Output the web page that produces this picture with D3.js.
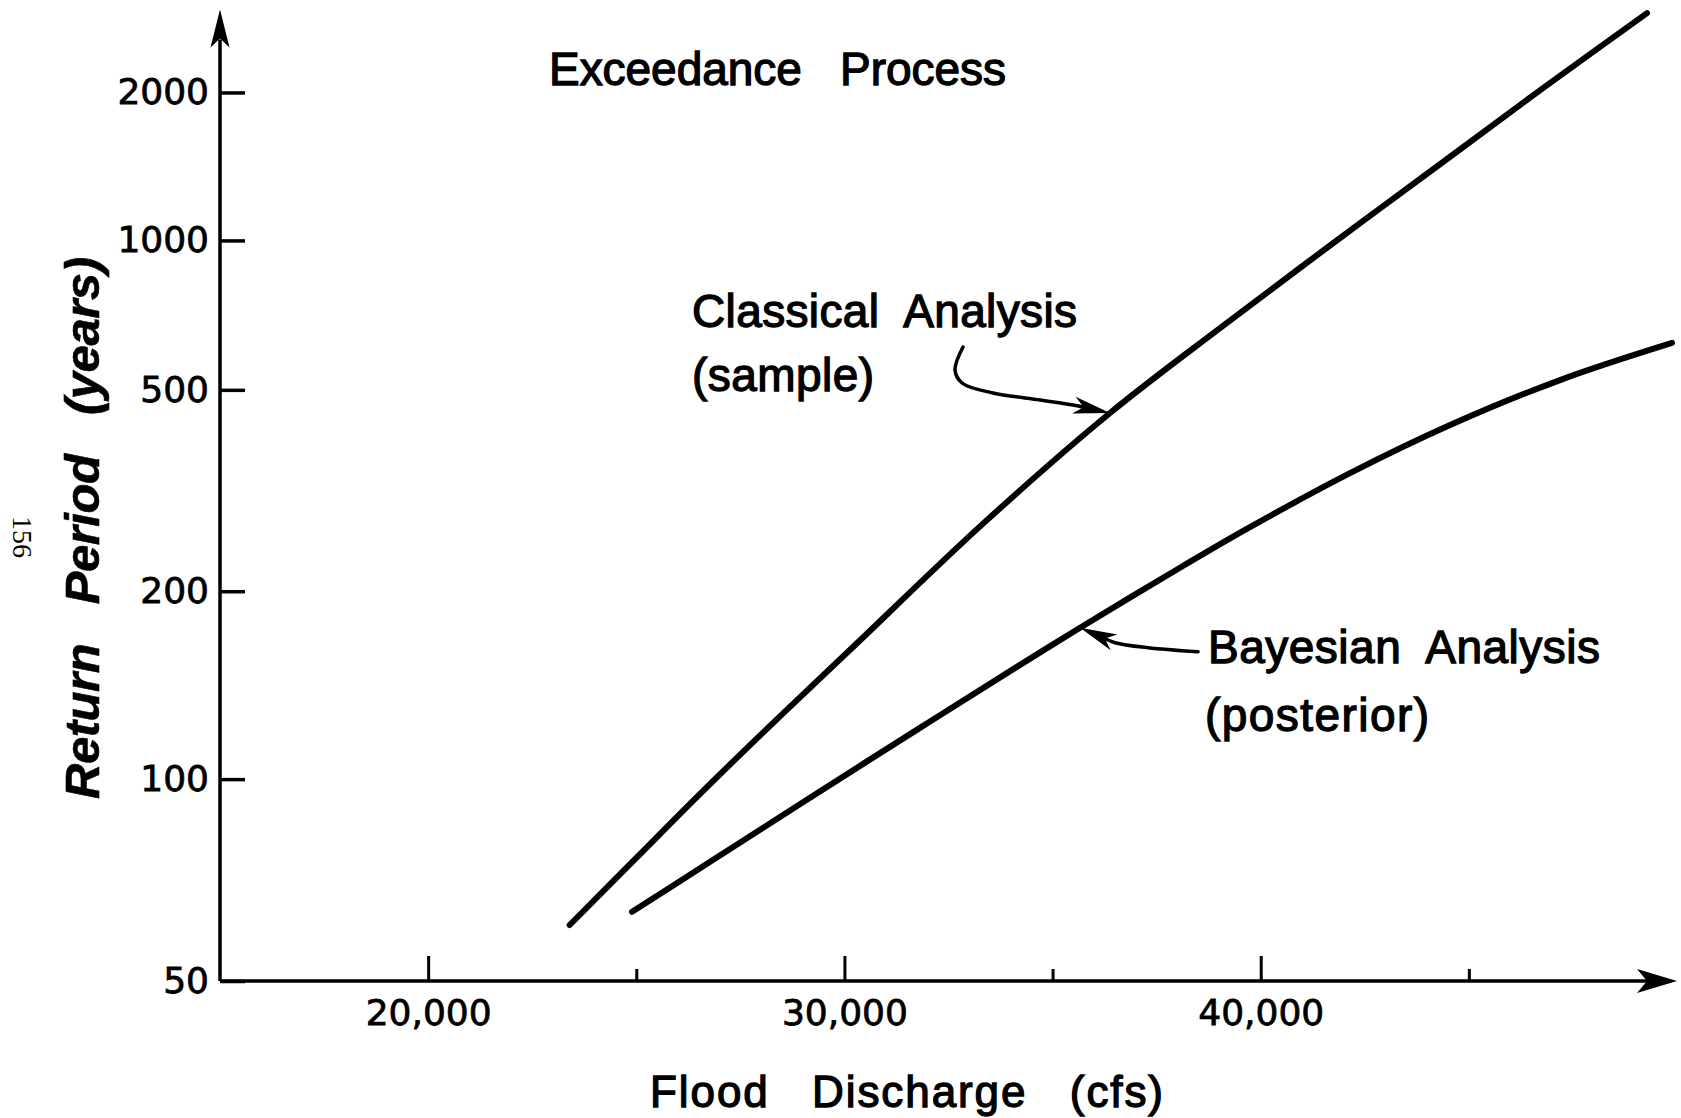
<!DOCTYPE html>
<html>
<head>
<meta charset="utf-8">
<script src="https://cdn.jsdelivr.net/npm/d3@7"></script>
<style>
  html, body { margin: 0; padding: 0; background: #fff; }
  svg { display: block; }
  text { fill: #000; }
</style>
</head>
<body>
<svg id="chart" width="1681" height="1118"></svg>
<script>
// Exceedance process: return period of floods against flood discharge

// Classical analysis (sample)
const classicalQ = [23400, 25000, 26550, 28200, 30130, 33330, 36380, 38950, 40940, 42550, 44550, 46880, 49280];
const classicalT = [60.6, 76.3, 95.3, 121.5, 161, 272, 450, 659, 880, 1110, 1480, 2070, 2900];

// Bayesian analysis (posterior)
const bayesianQ = [24900, 26820, 29125, 31890, 34170, 35660, 38130, 39740, 42145, 44550, 47190, 49880];
const bayesianT = [63.4, 75.6, 93.4, 121.7, 151.7, 174.8, 224.3, 267.7, 342.3, 426, 523.2, 621.5];

// Axes
const yTickValues = [50, 100, 200, 500, 1000, 2000];
const xMajorTicks = [20000, 30000, 40000];
const xMinorTicks = [25000, 35000, 45000];
const xDomain = [15000, 50000];

// Annotations: label lines and the vertex of each curve the leader points to
const classicalLabel = ["Classical  Analysis", "(sample)"];
const bayesianLabel = ["Bayesian  Analysis", "(posterior)"];
const classicalArrowIndex = 6;
const bayesianArrowIndex = 5;

const svg = d3.select("#chart");
const plotLeft = 220, plotRight = 1677, plotTop = 9.5, plotBottom = 981;
const axisH = plotBottom - plotTop;

const x = d3.scaleLinear().domain(xDomain).range([plotLeft, plotRight]);

// Return periods sit on probability paper: the printed rulings are spaced
// unevenly, so the scale runs piecewise-linear in log(T) between them.
const paperFraction = [0, 0.2078, 0.4012, 0.6085, 0.7623, 0.9146];
const yLog = d3.scaleLinear()
  .domain(yTickValues.map(Math.log10))
  .range(paperFraction.map(f => plotBottom - f * axisH));
const y = t => yLog(Math.log10(t));

const sans = '"Liberation Sans", Arial, sans-serif';
const digits = '"DejaVu Sans", sans-serif';

// ---- curves
const line = d3.line()
  .x(d => x(d[0]))
  .y(d => y(d[1]))
  .curve(d3.curveCatmullRom.alpha(0.5));

const classical = classicalQ.map((q, i) => [q, classicalT[i]]);
const bayesian = bayesianQ.map((q, i) => [q, bayesianT[i]]);

svg.append("g")
  .selectAll("path")
  .data([classical, bayesian])
  .join("path")
  .attr("d", line)
  .attr("fill", "none")
  .attr("stroke", "#000")
  .attr("stroke-width", 6)
  .attr("stroke-linecap", "round")
  .attr("stroke-linejoin", "round");

// ---- y axis
const yAxis = d3.axisLeft(yLog)
  .tickValues(yTickValues.map(Math.log10))
  .tickFormat(v => d3.format("d")(Math.round(Math.pow(10, v))))
  .tickSizeInner(-25)
  .tickSizeOuter(0)
  .tickPadding(11);

const gy = svg.append("g").attr("transform", `translate(${plotLeft},0)`).call(yAxis);
gy.select(".domain").remove();
gy.selectAll(".tick line").attr("stroke", "#000").attr("stroke-width", 3.5);
gy.selectAll(".tick text")
  .attr("font-family", digits)
  .attr("font-size", 36)
  .attr("fill", "#000")
  .attr("stroke", "#000")
  .attr("stroke-width", 0.8);

// ---- x axis
const xAxis = d3.axisBottom(x)
  .tickValues(xMajorTicks)
  .tickFormat(d3.format(","))
  .tickSizeInner(-25)
  .tickSizeOuter(0)
  .tickPadding(18);

const gx = svg.append("g").attr("transform", `translate(0,${plotBottom})`).call(xAxis);
gx.select(".domain").remove();
gx.selectAll(".tick line").attr("stroke", "#000").attr("stroke-width", 3);
gx.selectAll(".tick text")
  .attr("font-family", digits)
  .attr("font-size", 36)
  .attr("fill", "#000")
  .attr("stroke", "#000")
  .attr("stroke-width", 0.8);

const xMinor = d3.axisBottom(x)
  .tickValues(xMinorTicks)
  .tickFormat("")
  .tickSizeInner(-12)
  .tickSizeOuter(0);
const gxm = svg.append("g").attr("transform", `translate(0,${plotBottom})`).call(xMinor);
gxm.select(".domain").remove();
gxm.selectAll(".tick line").attr("stroke", "#000").attr("stroke-width", 3);

// axis lines with arrowheads
svg.append("path")
  .attr("d", `M${plotLeft},${plotBottom}V${plotTop + 30}M${plotLeft},${plotBottom}H${plotRight - 30}`)
  .attr("stroke", "#000")
  .attr("stroke-width", 3.5)
  .attr("fill", "none");

function arrowHead(tipX, tipY, angle, len, half, notch) {
  const c = Math.cos(angle), s = Math.sin(angle);
  const pt = (u, v) => [tipX - u * c - v * s, tipY - u * s + v * c];
  const pts = [pt(0, 0), pt(len, -half), pt(notch, 0), pt(len, half)];
  return "M" + pts.map(p => p.join(",")).join("L") + "Z";
}

svg.append("path")
  .attr("d", arrowHead(plotLeft, plotTop, -Math.PI / 2, 38, 9.5, 29))
  .attr("fill", "#000");
svg.append("path")
  .attr("d", arrowHead(plotRight, plotBottom, 0, 40, 12, 30))
  .attr("fill", "#000");

// ---- leaders from labels to curves
const leader = d3.line().curve(d3.curveCatmullRom.alpha(0.5));

function drawLeader(tip, offsets) {
  const pts = offsets.map(o => [tip[0] + o[0], tip[1] + o[1]]);
  const last = pts[pts.length - 1];
  const ang = Math.atan2(tip[1] - last[1], tip[0] - last[0]);
  const shaftEnd = [tip[0] - 26 * Math.cos(ang), tip[1] - 26 * Math.sin(ang)];
  svg.append("path")
    .attr("d", leader(pts.concat([shaftEnd])))
    .attr("fill", "none")
    .attr("stroke", "#000")
    .attr("stroke-width", 3.5)
    .attr("stroke-linecap", "round");
  svg.append("path")
    .attr("d", arrowHead(tip[0], tip[1], ang, 37, 8.5, 27))
    .attr("fill", "#000");
}

const cTip = [x(classical[classicalArrowIndex][0]), y(classical[classicalArrowIndex][1])];
drawLeader(cTip, [[-147, -66], [-155, -43], [-148, -30], [-117, -20], [-70, -13], [-37, -8]]);

const bTip = [x(bayesian[bayesianArrowIndex][0]), y(bayesian[bayesianArrowIndex][1])];
drawLeader(bTip, [[118, 24], [68, 20], [35, 15]]);

// ---- text
function label(str, xPos, yBase, size, len, opts = {}) {
  const t = svg.append("text")
    .attr("x", xPos)
    .attr("y", yBase)
    .attr("font-family", opts.family || sans)
    .attr("font-size", size)
    .attr("font-weight", opts.weight || "normal")
    .attr("font-style", opts.style || "normal")
    .attr("stroke", "#000")
    .attr("stroke-width", opts.thicken == null ? 1.3 : opts.thicken)
    .style("white-space", "pre")
    .text(str);
  if (len) t.attr("textLength", len).attr("lengthAdjust", "spacing");
  if (opts.anchor) t.attr("text-anchor", opts.anchor);
  if (opts.transform) t.attr("transform", opts.transform);
  return t;
}

label("Exceedance   Process", 549, 85, 46, 457);
label(classicalLabel[0], 692, 327, 46, 385);
label(classicalLabel[1], 692, 391, 46, 182);
label(bayesianLabel[0], 1208, 663, 46, 392);
label(bayesianLabel[1], 1205, 731, 46, 224);
label("Flood   Discharge   (cfs)", 650, 1107, 44, 513);

label("Return   Period   (years)", 0, 0, 49, 542, {
  weight: "bold", style: "italic", anchor: "middle", thicken: 0.6,
  transform: "translate(99,528) rotate(-90)"
});

label("156", 0, 0, 28, null, {
  family: '"Liberation Serif", serif', anchor: "middle", thicken: 0,
  transform: "translate(13,537) rotate(90)"
}).attr("fill", "#222");
</script>
</body>
</html>
